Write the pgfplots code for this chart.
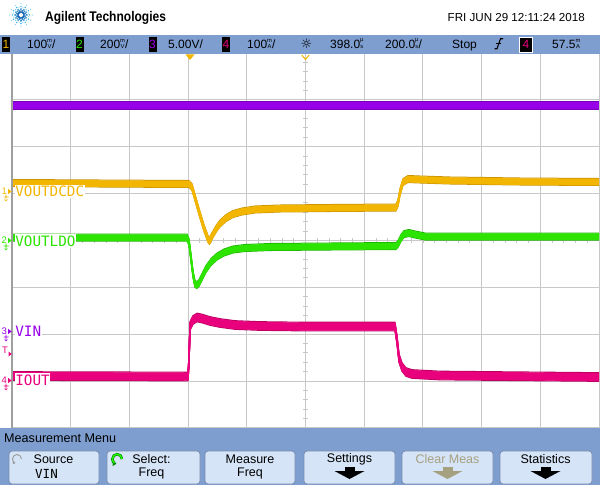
\documentclass[border=0pt]{standalone}
\usepackage{pgfplots}
\pgfplotsset{compat=1.18}
\usepackage{pgfplotstable}
\usetikzlibrary{arrows.meta}
\usepackage{fontspec}
\setmainfont{Liberation Sans}
\newfontfamily\mono{DejaVu Sans Mono}
\newfontfamily\dejavu{DejaVu Sans}
\newcommand\fs[1]{\fontsize{#1bp}{#1bp}\selectfont}
\newcommand\stk[2]{{\fs{5.8}\shortstack[c]{#1\\#2}}}
\definecolor{barblue}{RGB}{126,158,208}
\definecolor{btnblue}{RGB}{214,228,247}
\definecolor{btnedge}{RGB}{120,140,175}
\definecolor{gridgray}{RGB}{200,200,200}
\definecolor{oC}{RGB}{242,182,0}
\definecolor{oD}{RGB}{200,146,0}
\definecolor{gC}{RGB}{44,228,0}
\definecolor{gD}{RGB}{28,176,0}
\definecolor{pC}{RGB}{152,0,232}
\definecolor{pD}{RGB}{118,0,186}
\definecolor{mC}{RGB}{232,0,124}
\definecolor{mD}{RGB}{186,0,96}
\definecolor{logoD}{RGB}{20,96,176}
\definecolor{logoC}{RGB}{64,184,232}
\definecolor{greyT}{RGB}{165,160,128}

\pgfplotstableread{
x y
12 183
100 183.5
189 184
192 187
196 201
200 215
204 228
208 239
209.5 241
212 236
216 229
220 223.5
226 218
233 214
242 211.5
255 209.5
280 208.5
330 208
396 207.5
398 203
400 192
403 182
408 179
420 179.5
450 180.5
520 181.5
599 182
}\tOrange
\pgfplotstableread{
x y
12 237.5
187 237.5
189 242
191 258
193 274
195 284
197 285
199 283
202 277
206 269
211 262
217 256.5
224 252.5
233 249.5
245 248
270 247
330 246.5
396 246
398 244
401 238
404 234
409 233
415 234.5
425 236.5
599 236.5
}\tGreen
\pgfplotstableread{
x y
12 376
188 376.5
189 360
190 326
193 320
197 317.5
202 318.5
210 321
220 323
235 325
260 326
300 326.5
395 326.5
397 340
399 358
402 367
406 372
412 374
440 375.5
599 377
}\tPink
\pgfplotstableread{
x y
12 105.5
300 105.5
599 105.5
}\tPurple

\begin{document}
\begin{tikzpicture}[x=1bp,y=1bp]
\fill[white] (0,0) rectangle (600,-485);
% logo
\foreach \a in {0,30,...,330}{
  \fill[logoD] (21,-15) ++(\a:3bp) circle[radius=1.2bp];
  \fill[logoD!50!logoC] (21,-15) ++(\a:5.8bp) circle[radius=1.05bp];
  \fill[logoC] (21,-15) ++(\a:8.6bp) circle[radius=0.85bp];
  \fill[logoC!70] (21,-15) ++(\a:11.2bp) circle[radius=0.6bp];
}
\foreach \a in {15,45,...,345}{
  \fill[logoD!60!logoC] (21,-15) ++(\a:4.6bp) circle[radius=0.75bp];
  \fill[logoC] (21,-15) ++(\a:7.4bp) circle[radius=0.55bp];
}
\node[anchor=base west, inner sep=0] at (45,-21.5) {\scalebox{0.86}[1]{\fs{14}\bfseries Agilent Technologies}};
\node[anchor=base east, inner sep=0] at (585,-21.5) {\fs{11.6}FRI JUN 29 12:11:24 2018};
% minor ticks on centre lines
\foreach \k in {1,...,39}{
  \draw[gridgray, line width=0.8bp] (303.3,{-52.8-\k*9.3775}) -- (307.7,{-52.8-\k*9.3775});
}
\foreach \k in {1,...,49}{
  \draw[gridgray, line width=0.8bp] ({12+\k*11.74},-238.2) -- ({12+\k*11.74},-242.5);
}
\begin{axis}[at={(12bp,-52.8bp)}, anchor=north west,
  width=587bp, height=375.1bp, scale only axis,
  xmin=12, xmax=599, ymin=52.8, ymax=427.9, y dir=reverse,
  xtick={12,70.7,129.4,188.1,246.8,305.5,364.2,422.9,481.6,540.3,599},
  ytick={52.8,99.69,146.58,193.46,240.35,287.24,334.13,381.01,427.9},
  xticklabels={}, yticklabels={},
  grid=major, major grid style={draw=gridgray, line width=1bp},
  tick style={draw=none}, axis line style={draw=none},
  line join=round]
% purple band
\pgfplotsinvokeforeach{-3.5,3.5}{\addplot[draw=pD, line width=1.1bp] table[x=x, y expr=\thisrow{y}+#1] {\tPurple};}
\pgfplotsinvokeforeach{-2.6,-1.8,-1,-0.2,0.6,1.4,2.2,2.8}{\addplot[draw=pC, line width=1.3bp] table[x=x, y expr=\thisrow{y}+#1] {\tPurple};}
% pink band
\pgfplotsinvokeforeach{-4.3,4.3}{\addplot[draw=mD, line width=1.1bp] table[x=x, y expr=\thisrow{y}+#1] {\tPink};}
\pgfplotsinvokeforeach{-3.4,-2.6,-1.8,-1,-0.2,0.6,1.4,2.2,3,3.5}{\addplot[draw=mC, line width=1.3bp] table[x=x, y expr=\thisrow{y}+#1] {\tPink};}
% orange band
\pgfplotsinvokeforeach{-3.5,3.5}{\addplot[draw=oD, line width=1bp] table[x=x, y expr=\thisrow{y}+#1] {\tOrange};}
\pgfplotsinvokeforeach{-2.6,-1.8,-1,-0.2,0.6,1.4,2.2,2.8}{\addplot[draw=oC, line width=1.3bp] table[x=x, y expr=\thisrow{y}+#1] {\tOrange};}
% green band
\pgfplotsinvokeforeach{-3.5,3.5}{\addplot[draw=gD, line width=1bp] table[x=x, y expr=\thisrow{y}+#1] {\tGreen};}
\pgfplotsinvokeforeach{-2.6,-1.8,-1,-0.2,0.6,1.4,2.2,2.8}{\addplot[draw=gC, line width=1.3bp] table[x=x, y expr=\thisrow{y}+#1] {\tGreen};}
\end{axis}
% left border
\draw[gray!75, line width=1.2bp] (12,-54) -- (12,-428);
% channel bar
\fill[barblue] (0,-35) rectangle (600,-54);
\tikzset{chbox/.style={fill=black, inner sep=0, minimum width=8bp, minimum height=14.5bp, font=\fs{12}}}
\node[chbox, text=oC] at (6,-44.5) {1};
\node[chbox, text=gC] at (79.5,-44.5) {2};
\node[chbox, text=pC] at (152.5,-44.5) {3};
\node[chbox, text=mC] at (226,-44.5) {4};
\node[anchor=base west, inner sep=0, font=\fs{12}] at (27,-49) {100\stk{m}{V}/};
\node[anchor=base west, inner sep=0, font=\fs{12}] at (100,-49) {200\stk{m}{V}/};
\node[anchor=base west, inner sep=0, font=\fs{12}] at (168,-49) {5.00V/};
\node[anchor=base west, inner sep=0, font=\fs{12}] at (247,-49) {100\stk{m}{A}/};
\node[inner sep=0, font=\dejavu\fs{13}] at (306.5,-44) {☼};
\node[anchor=base west, inner sep=0, font=\fs{12}] at (330,-49) {398.0\stk{µ}{s}};
\node[anchor=base west, inner sep=0, font=\fs{12}] at (385,-49) {200.0\stk{µ}{s}/};
\node[anchor=base west, inner sep=0, font=\fs{12}] at (452,-49) {Stop};
\draw[line width=1.1bp] (494.5,-48.8) -- (497,-48.8) -- (500.5,-38.8) -- (503,-38.8);
\draw[line width=0.9bp] (496.3,-43.8) -- (501.2,-43.8);
\node[fill=black, draw=white, line width=0.8bp, text=mC, inner sep=0, minimum width=12.5bp, minimum height=15bp, font=\fs{12}] at (526,-44.5) {4};
\node[anchor=base west, inner sep=0, font=\fs{12}] at (552,-49) {57.5\stk{m}{A}};
% time markers
\fill[oC] (185.5,-54.5) -- (194.5,-54.5) -- (190,-60) -- cycle;
\draw[oC, line width=1bp] (301.8,-55) -- (305.5,-59.5) -- (309.2,-55);
% trace labels
\tikzset{lbl/.style={anchor=west, fill=white, inner xsep=0.6bp, inner ysep=1.3bp, font=\mono\fs{14.3}}}
\node[lbl, text=oC] at (14.5,-191.5) {VOUTDCDC};
\node[lbl, text=gC] at (14.5,-241) {VOUTLDO};
\node[lbl, text=pC] at (14.5,-331.5) {VIN};
\node[lbl, text=mC] at (14.5,-380) {IOUT};
% channel markers
\newcommand\chmark[3]{%
  \node[inner sep=0, text=#3, font=\fs{9.5}] at (4.3,-#2) {#1};
  \fill[#3] (8,{-#2+2.6}) -- (11.8,-#2) -- (8,{-#2-2.6}) -- cycle;
  \draw[#3, line width=0.7bp] (6,{-#2-3}) -- (6,{-#2-8}) (3.5,{-#2-5.5}) -- (8.5,{-#2-5.5}) (4.5,{-#2-8}) -- (6,{-#2-9.5}) -- (7.5,{-#2-8});
}
\chmark{1}{191.5}{oC}
\chmark{2}{240.5}{gC}
\chmark{3}{331.5}{pC}
\chmark{4}{380.5}{mC}
\node[inner sep=0, text=mC, font=\fs{9.5}] at (5,-350) {T};
\fill[mC] (8.5,-351.5) -- (11.8,-354) -- (8.5,-356.5) -- cycle;
% measurement menu
\fill[barblue] (0,-428) rectangle (600,-485);
\node[anchor=west, inner sep=0, font=\fs{12.6}] at (4,-438) {Measurement Menu};
\foreach \xa/\xb in {9/99,107/200,205/295,304/395,402/493,500/592}{
  \draw[fill=btnblue, draw=btnedge, line width=0.8bp, rounded corners=3bp] (\xa,-451) rectangle (\xb,-484);
}
\tikzset{btxt/.style={inner sep=0, font=\fs{12.5}}}
\node[btxt] at (53.5,-459.5) {Source};
\node[btxt, font=\mono\fs{12.5}] at (46.5,-473.5) {VIN};
\draw[gray!80, line width=0.9bp, -{Stealth[length=2.6bp,width=3.4bp]}] (21.5,-459) arc[start angle=0, end angle=250, radius=4.5bp];
\node[btxt] at (151.5,-459.5) {Select:};
\node[btxt] at (151.5,-473.5) {Freq};
\draw[green!55!black, line width=2.6bp, -{Triangle[length=3.4bp,width=6bp]}] (122,-459) arc[start angle=0, end angle=260, radius=4.8bp];
\draw[green!80!lime, line width=1.2bp] (122,-459) arc[start angle=0, end angle=235, radius=4.8bp];
\node[btxt] at (250,-459.5) {Measure};
\node[btxt] at (250,-473.5) {Freq};
\node[btxt] at (349.5,-459.5) {Settings};
\node[btxt, text=greyT] at (447.5,-459.5) {Clear Meas};
\node[btxt] at (545.5,-459.5) {Statistics};
\newcommand\darrow[2]{%
  \fill[#2] ({#1-5},-466.5) rectangle ({#1+5},-471);
  \fill[#2] ({#1-15},-471) -- ({#1+15},-471) -- (#1,-479) -- cycle;
}
\darrow{349.5}{black}
\darrow{447.5}{greyT}
\darrow{545.5}{black}
\pgfresetboundingbox
\path[use as bounding box] (0,0) rectangle (600,-485);
\end{tikzpicture}
\end{document}
